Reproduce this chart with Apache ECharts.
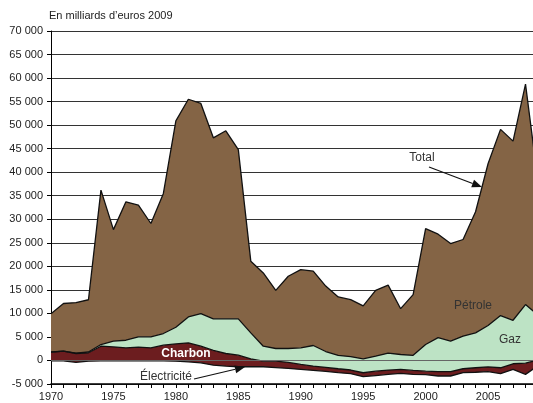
<!DOCTYPE html>
<html><head><meta charset="utf-8">
<script src="https://cdn.jsdelivr.net/npm/echarts@6/dist/echarts.min.js"></script>
<style>html,body{margin:0;padding:0;background:#fff}#c{width:533px;height:403px}</style>
</head><body><div id="c"></div>
<script>
const years = ['1970','1971','1972','1973','1974','1975','1976','1977','1978','1979',
  '1980','1981','1982','1983','1984','1985','1986','1987','1988','1989',
  '1990','1991','1992','1993','1994','1995','1996','1997','1998','1999',
  '2000','2001','2002','2003','2004','2005','2006','2007','2008','2009'];
const electricite = [-100,-100,-400,-150,-100,-100,-100,-100,-100,-100,
  -150,-280,-500,-1000,-1200,-1340,-1340,-1340,-1500,-1700,
  -1900,-2100,-2300,-2600,-2800,-3450,-3200,-2950,-2750,-2950,
  -3000,-3300,-3300,-2600,-2500,-2350,-2800,-1900,-2950,-1100];
const charbon = [1860,2070,1880,1780,3130,3000,2790,2950,2790,3340,
  3690,4030,3530,3120,2680,2460,1700,1190,1350,1300,
  1050,900,850,840,770,840,930,900,850,830,
  730,930,930,840,950,1010,1250,1200,2380,1200];
const gaz = [40,30,70,170,360,1190,1610,2170,2330,2480,
  3520,5510,6930,6720,7360,7720,5510,3180,2690,2940,
  3540,4380,3350,2820,2830,2970,3190,3600,3170,3220,
  5660,7210,6490,6910,7420,8760,11090,9240,12440,9550];
const petrole = [8100,10100,10750,11100,32810,23710,29400,27980,24080,29780,
  43840,46240,44640,38460,39960,35960,15230,15570,12360,15360,
  16610,15820,13900,12440,12120,11240,13980,14450,9730,12900,
  24610,21990,20710,20550,25730,34380,39560,38060,46830,28350];

const FONT = '"Liberation Sans", Arial, sans-serif';
const layers = [
  ['Électricité', electricite, 'rgba(0,0,0,0)'],
  ['Charbon', charbon, '#6c1d1f'],
  ['Gaz', gaz, '#bde3c5'],
  ['Pétrole', petrole, '#846445']
];
const series = [];
layers.forEach(([name, data, color], i) => {
  const s = {
    name: name, type: 'line', data: data, stack: 'areas', stackStrategy: 'all',
    symbol: 'none', silent: true, z: 2,
    lineStyle: { width: 0 },
    areaStyle: { color: color, opacity: 1 }
  };
  if (i === layers.length - 1) {
    s.markLine = {
      silent: true, symbol: ['none', 'none'], label: { show: false },
      lineStyle: { color: '#666', width: 1, type: 'solid' },
      data: [{ yAxis: 0 }]
    };
  }
  series.push(s);
});
layers.forEach(([name, data]) => {
  series.push({
    name: name + '_l', type: 'line', data: data, stack: 'lines', stackStrategy: 'all',
    symbol: 'none', silent: true, z: 4,
    lineStyle: { color: '#111', width: 1.3 }
  });
});

function arrow(x1, y1, x2, y2) {
  const dx = x2 - x1, dy = y2 - y1, L = Math.hypot(dx, dy);
  const ux = dx / L, uy = dy / L, hl = 10, hw = 4;
  const bx = x2 - ux * hl, by = y2 - uy * hl;
  return [
    { type: 'line', z: 10, shape: { x1: x1, y1: y1, x2: bx, y2: by }, style: { stroke: '#111', lineWidth: 1.2 } },
    { type: 'polygon', z: 10, shape: { points: [[x2, y2], [bx - uy * hw, by + ux * hw], [bx + uy * hw, by - ux * hw]] }, style: { fill: '#111' } }
  ];
}
function txt(t, x, y, opts) {
  return Object.assign({ type: 'text', z: 10, x: x, y: y,
    style: Object.assign({ text: t, fill: '#333', font: '12px ' + FONT, align: 'center', verticalAlign: 'middle' }, opts || {}) });
}

const fmt = v => (v < 0 ? '-' : '') + Math.abs(v).toString().replace(/\B(?=(\d{3})+(?!\d))/g, ' ');

const chart = echarts.init(document.getElementById('c'), null, { renderer: 'canvas' });
chart.setOption({
  animation: false,
  backgroundColor: '#fff',
  grid: { left: 51, right: -5, top: 31, bottom: 19, containLabel: false, outerBoundsMode: 'none' },
  xAxis: {
    type: 'category', data: years, boundaryGap: false,
    axisLine: { onZero: false, lineStyle: { color: '#000', width: 1.5 } },
    axisTick: { show: true, interval: 0, length: 4, lineStyle: { color: '#000' } },
    axisLabel: { interval: 4, margin: 7, color: '#222', fontSize: 11, fontFamily: FONT },
    splitLine: { show: false }
  },
  yAxis: {
    type: 'value', min: -5000, max: 70000, interval: 5000,
    axisLine: { show: true, lineStyle: { color: '#000', width: 1 } },
    axisTick: { show: true, length: 4, lineStyle: { color: '#000' } },
    axisLabel: { formatter: fmt, margin: 8, color: '#222', fontSize: 11, fontFamily: FONT },
    splitLine: { show: true, lineStyle: { color: '#333', width: 1 } }
  },
  series: series,
  graphic: [
    txt('En milliards d\u2019euros 2009', 49, 16, { align: 'left', font: '11px ' + FONT, fill: '#222' }),
    txt('Total', 422, 158),
    ...arrow(429, 167, 482, 187),
    txt('Pétrole', 473, 306),
    txt('Gaz', 510, 340),
    txt('Charbon', 186, 354, { fill: '#fff', font: 'bold 12px ' + FONT }),
    txt('Électricité', 166, 377),
    ...arrow(194, 379, 245, 367)
  ]
});
</script></body></html>
